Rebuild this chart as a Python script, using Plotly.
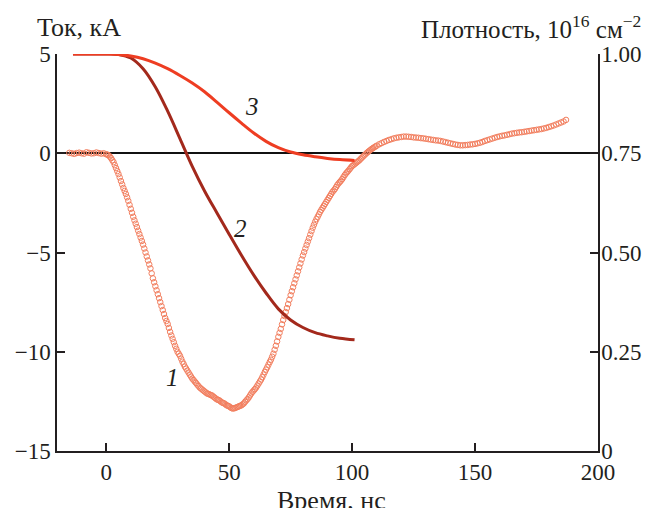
import plotly.graph_objects as go

# ---- Curve 1: measured current, kA (left axis) ----
time_ns = ([float(t) for t in range(-15, 0)]
           + [k / 2 for k in range(0, 220)]
           + [float(t) for t in range(110, 188)])

current_kA = [
    # -15 .. -1 (1 ns)
    0.02, 0.00, -0.03, 0.01, 0.03, 0.00, -0.02, 0.05, 0.02, -0.01, 0.00, 0.04, 0.01, -0.02, 0.00,
    # 0 .. 109.5 (0.5 ns)
    -0.05, -0.07, -0.10, -0.17, -0.25, -0.35, -0.45, -0.60, -0.75, -0.90,
    -1.05, -1.22, -1.40, -1.57, -1.75, -1.90, -2.05, -2.22, -2.40, -2.60,
    -2.80, -3.00, -3.20, -3.38, -3.55, -3.72, -3.90, -4.07, -4.25, -4.42,
    -4.60, -4.80, -5.00, -5.20, -5.40, -5.60, -5.80, -6.05, -6.30, -6.50,
    -6.70, -6.90, -7.10, -7.30, -7.50, -7.70, -7.90, -8.10, -8.30, -8.45,
    -8.60, -8.80, -9.00, -9.18, -9.35, -9.52, -9.70, -9.85, -10.00, -10.10,
    -10.20, -10.35, -10.50, -10.62, -10.75, -10.85, -10.95, -11.05, -11.15, -11.25,
    -11.35, -11.42, -11.50, -11.57, -11.65, -11.72, -11.80, -11.85, -11.90, -11.95,
    -12.00, -12.05, -12.10, -12.12, -12.15, -12.18, -12.20, -12.25, -12.30, -12.35,
    -12.40, -12.42, -12.45, -12.50, -12.55, -12.58, -12.60, -12.65, -12.70, -12.72,
    -12.75, -12.80, -12.84, -12.86, -12.85, -12.83, -12.80, -12.78, -12.75, -12.72,
    -12.70, -12.65, -12.60, -12.52, -12.45, -12.38, -12.30, -12.20, -12.10, -12.02,
    -11.95, -11.88, -11.80, -11.70, -11.60, -11.50, -11.40, -11.28, -11.15, -11.02,
    -10.90, -10.78, -10.65, -10.52, -10.40, -10.25, -10.10, -9.90, -9.70, -9.48,
    -9.25, -9.05, -8.85, -8.62, -8.40, -8.20, -8.00, -7.80, -7.60, -7.38,
    -7.15, -6.95, -6.75, -6.55, -6.35, -6.15, -5.95, -5.75, -5.55, -5.35,
    -5.15, -4.98, -4.80, -4.62, -4.45, -4.28, -4.10, -3.92, -3.75, -3.60,
    -3.45, -3.32, -3.20, -3.08, -2.95, -2.85, -2.75, -2.65, -2.55, -2.45,
    -2.35, -2.25, -2.15, -2.05, -1.95, -1.88, -1.80, -1.70, -1.60, -1.52,
    -1.45, -1.38, -1.30, -1.20, -1.10, -1.02, -0.95, -0.88, -0.80, -0.72,
    -0.65, -0.60, -0.55, -0.50, -0.45, -0.40, -0.35, -0.28, -0.22, -0.16,
    -0.10, -0.04, 0.02, 0.07, 0.12, 0.17, 0.22, 0.26, 0.30, 0.34,
    # 110 .. 187 (1 ns)
    0.38, 0.45, 0.51, 0.57, 0.62, 0.67, 0.71, 0.75, 0.78, 0.80,
    0.82, 0.84, 0.84, 0.83, 0.82, 0.80, 0.79, 0.78, 0.76, 0.75,
    0.73, 0.71, 0.69, 0.67, 0.65, 0.64, 0.62, 0.59, 0.56, 0.53,
    0.50, 0.47, 0.44, 0.42, 0.40, 0.40, 0.41, 0.42, 0.44, 0.45,
    0.47, 0.50, 0.53, 0.57, 0.62, 0.66, 0.70, 0.74, 0.78, 0.82,
    0.85, 0.88, 0.90, 0.93, 0.96, 0.99, 1.01, 1.03, 1.05, 1.06,
    1.08, 1.10, 1.12, 1.14, 1.16, 1.18, 1.20, 1.22, 1.25, 1.28,
    1.32, 1.36, 1.40, 1.45, 1.50, 1.55, 1.60, 1.68,
]
assert len(time_ns) == len(current_kA), (len(time_ns), len(current_kA))

# ---- Curves 2 and 3: density, 1e16 cm^-2 (right axis) ----
time_2 = [-13.5, -5, 0, 5, 10, 15, 20, 25, 30, 35, 40, 45, 50, 55, 60, 65, 70, 75, 80, 85, 90, 95, 101]
density_2 = [1.0, 1.0, 1.0, 0.999, 0.990, 0.963, 0.917, 0.856, 0.787, 0.717, 0.655, 0.600,
             0.546, 0.493, 0.443, 0.398, 0.358, 0.330, 0.311, 0.298, 0.290, 0.284, 0.280]

time_3 = [-13.5, -5, 0, 5, 10, 15, 20, 25, 30, 35, 40, 45, 50, 55, 60, 65, 70, 75, 80, 85, 90, 95, 101]
density_3 = [1.0, 1.0, 1.0, 0.999, 0.995, 0.988, 0.977, 0.963, 0.946, 0.927, 0.905, 0.879,
             0.852, 0.826, 0.801, 0.780, 0.764, 0.753, 0.746, 0.741, 0.737, 0.734, 0.732]

x_ticks = [0, 50, 100, 150, 200]
y_ticks = [-15, -10, -5, 0, 5]
y2_ticks = [0, 0.25, 0.5, 0.75, 1.0]
y2_ticktext = ["0", "0.25", "0.50", "0.75", "1.00"]

curve_labels = [("1", 26.8, -11.3), ("2", 54.5, -3.78), ("3", 59.3, 2.37)]

FONT = "Liberation Serif"
TXT = "#231f20"
TICK_SIZE = 23
TITLE_SIZE = 26

fig = go.Figure()
fig.add_trace(go.Scatter(
    x=time_ns, y=current_kA, mode="markers", yaxis="y",
    marker=dict(symbol="circle-open", size=5.5, color="#f27e5e", line=dict(width=1)),
    showlegend=False, hoverinfo="skip"))
fig.add_trace(go.Scatter(
    x=time_2, y=density_2, mode="lines", yaxis="y2",
    line=dict(color="#a3291c", width=3, shape="spline", smoothing=1.0),
    showlegend=False))
fig.add_trace(go.Scatter(
    x=time_3, y=density_3, mode="lines", yaxis="y2",
    line=dict(color="#ee3d22", width=3, shape="spline", smoothing=1.0),
    showlegend=False))

axis_common = dict(
    showline=True, linecolor=TXT, linewidth=1.5,
    ticks="inside", ticklen=8, tickwidth=1.5, tickcolor=TXT,
    showgrid=False, automargin=False,
    tickfont=dict(family=FONT, size=TICK_SIZE, color=TXT),
)

# page body has an 8px margin, so the figure is 8px smaller and margins shifted
fig.update_layout(
    template="none",
    width=642, height=500,
    margin=dict(l=49, r=52, t=46, b=57, autoexpand=False),
    paper_bgcolor="white", plot_bgcolor="white",
    font=dict(family=FONT, size=TICK_SIZE, color=TXT),
    xaxis=dict(range=[-20, 200], tickvals=x_ticks, zeroline=False, **axis_common),
    yaxis=dict(range=[-15, 5], tickvals=y_ticks, zeroline=True,
               zerolinecolor="#111111", zerolinewidth=1.5, **axis_common),
    yaxis2=dict(range=[0, 1], tickvals=y2_ticks, ticktext=y2_ticktext,
                overlaying="y", side="right", zeroline=False,
                ticklabelstandoff=-3, **axis_common),
)

annotations = [
    dict(text="Ток, кА", xref="paper", yref="paper", x=-0.040, y=1.068,
         xanchor="left", yanchor="middle", showarrow=False,
         font=dict(family=FONT, size=TITLE_SIZE, color=TXT)),
    dict(text="Плотность, 10<sup>16</sup> см<sup>−2</sup>", xref="paper", yref="paper",
         x=1.084, y=1.068, xanchor="right", yanchor="middle", showarrow=False,
         font=dict(family=FONT, size=25, color=TXT)),
    dict(text="Время, нс", xref="paper", yref="paper", x=0.508, y=-0.125,
         xanchor="center", yanchor="middle", showarrow=False,
         font=dict(family=FONT, size=TITLE_SIZE, color=TXT)),
]
for txt, lx, ly in curve_labels:
    annotations.append(dict(text="<i>" + txt + "</i>", x=lx, y=ly, xref="x", yref="y",
                            showarrow=False, font=dict(family=FONT, size=25, color=TXT)))
fig.update_layout(annotations=annotations)

fig.write_html("out.html")
